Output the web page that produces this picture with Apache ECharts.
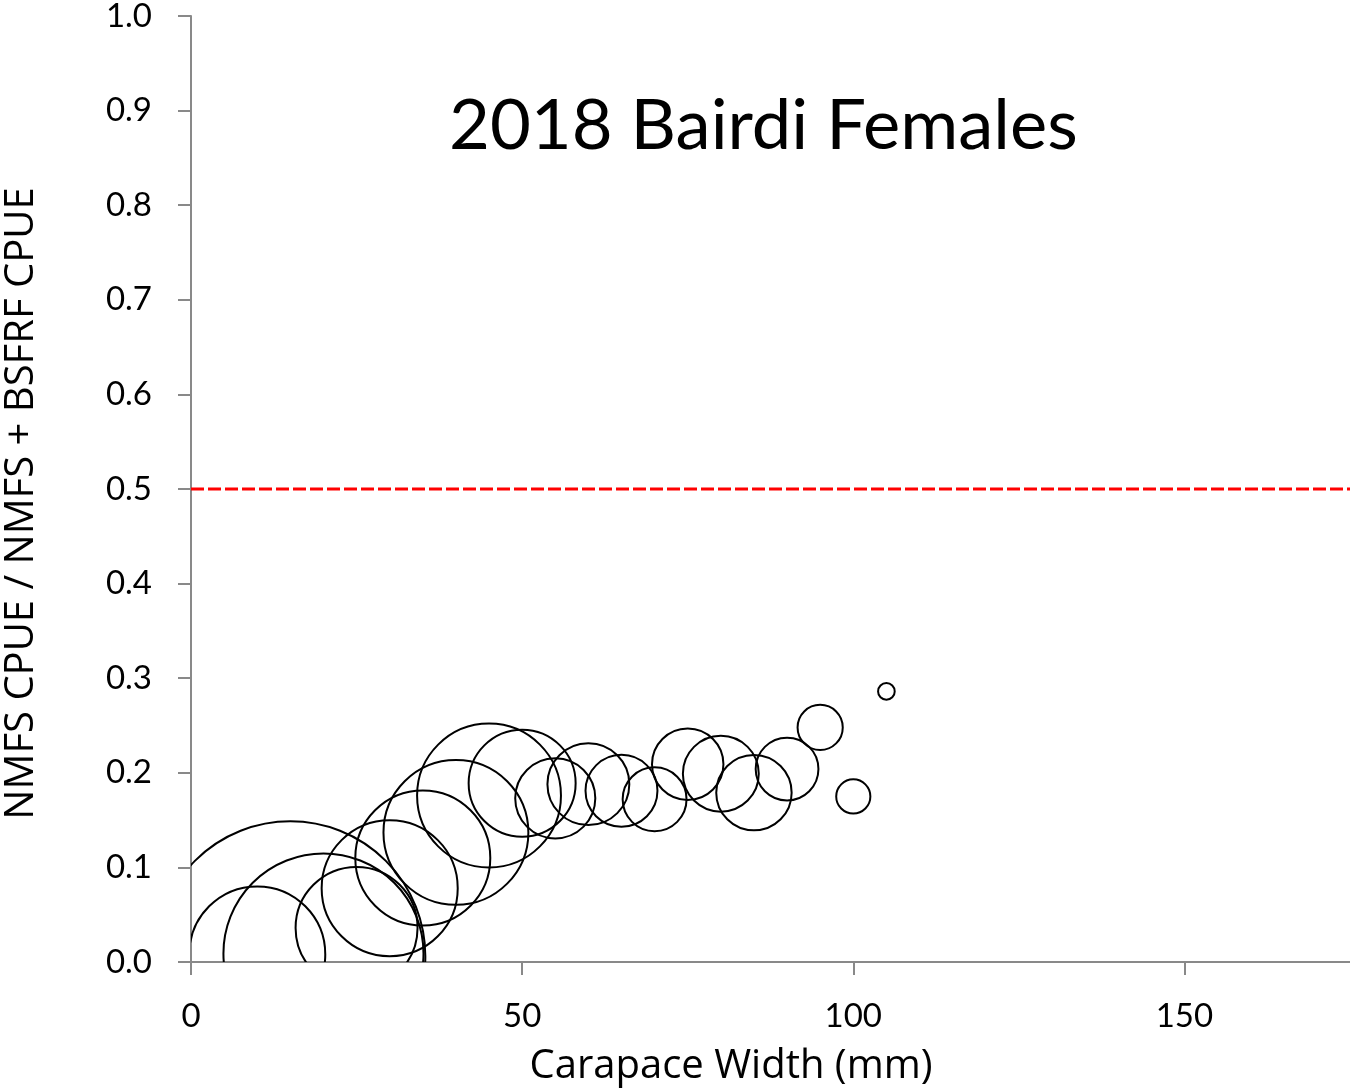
<!DOCTYPE html>
<html>
<head>
<meta charset="utf-8">
<title>2018 Bairdi Females</title>
<script src="https://cdn.jsdelivr.net/npm/echarts@6/dist/echarts.min.js"></script>
<style>
  html, body { margin: 0; padding: 0; background: #fff; }
  #chart { width: 1350px; height: 1090px; }
</style>
</head>
<body>
<div id="chart"></div>
<script>
// carapace width bins (mm)
const widths = [10, 15, 20, 25, 30, 35, 40, 45, 50, 55, 60, 65, 70, 75, 80, 85, 90, 95, 100, 105];
// NMFS CPUE / (NMFS + BSFRF CPUE)
const ratios = [0.008, 0.006, 0.009, 0.036, 0.078, 0.110, 0.137, 0.176, 0.189, 0.173,
                0.188, 0.181, 0.172, 0.209, 0.199, 0.179, 0.204, 0.248, 0.175, 0.286];
// bubble size (relative total CPUE)
const totals = [25.4, 100, 54.9, 20.4, 25.4, 25.0, 28.8, 28.4, 15.7, 8.8,
                9.2, 7.1, 5.6, 7.0, 7.9, 7.8, 5.4, 2.8, 1.6, 0.38];
const xTicks = [0, 50, 100, 150];
const threshold = 0.5;
const thresholdX = [0, 175];

const bubbles = widths.map((w, i) => [w, ratios[i], totals[i]]);
const maxTotal = Math.max(...totals);
const maxRadius = 135;

const font = 'Lato, "Open Sans", sans-serif';
const nameFont = '"Open Sans", Lato, sans-serif';
const axisGray = '#898989';

const chart = echarts.init(document.getElementById('chart'));
chart.setOption({
  animation: false,
  backgroundColor: '#fff',
  title: {
    text: '2018 Bairdi Females',
    left: 444,
    top: 86,
    textStyle: { fontFamily: font, fontSize: 70.5, fontWeight: 'normal', color: '#000' }
  },
  grid: { left: 191, right: 0, top: 16, bottom: 128, outerBoundsMode: 'none' },
  xAxis: {
    type: 'value',
    min: 0,
    max: 175,
    interval: 50,
    name: 'Carapace Width (mm)',
    nameLocation: 'middle',
    nameGap: 85,
    nameTextStyle: { fontFamily: nameFont, fontSize: 40, color: '#000', padding: [0, 79, 0, 0] },
    axisLine: { lineStyle: { color: axisGray, width: 2 } },
    axisTick: { show: true, length: 13, lineStyle: { color: axisGray, width: 2 }, customValues: xTicks },
    axisLabel: { fontFamily: font, fontSize: 33, color: '#000', margin: 38, customValues: xTicks },
    splitLine: { show: false }
  },
  yAxis: {
    type: 'value',
    min: 0,
    max: 1,
    interval: 0.1,
    name: 'NMFS CPUE / NMFS + BSFRF CPUE',
    nameLocation: 'middle',
    nameGap: 149,
    nameTextStyle: { fontFamily: nameFont, fontSize: 40, color: '#000', padding: [0, 29, 0, 0] },
    axisLine: { lineStyle: { color: axisGray, width: 2 } },
    axisTick: { show: true, length: 13, lineStyle: { color: axisGray, width: 2 } },
    axisLabel: {
      fontFamily: font, fontSize: 33, color: '#000', margin: 39,
      formatter: v => v.toFixed(1)
    },
    splitLine: { show: false }
  },
  series: [
    {
      type: 'custom',
      clip: true,
      data: bubbles,
      renderItem: (params, api) => {
        const c = api.coord([api.value(0), api.value(1)]);
        const r = maxRadius * Math.sqrt(api.value(2) / maxTotal);
        return {
          type: 'circle',
          shape: { cx: c[0], cy: c[1], r: r },
          style: { fill: 'none', stroke: '#000', lineWidth: 2 }
        };
      }
    },
    {
      type: 'line',
      data: thresholdX.map(x => [x, threshold]),
      symbol: 'none',
      lineStyle: { color: '#ff0000', width: 3, type: [13, 4] },
      z: 3
    }
  ]
});
</script>
</body>
</html>
